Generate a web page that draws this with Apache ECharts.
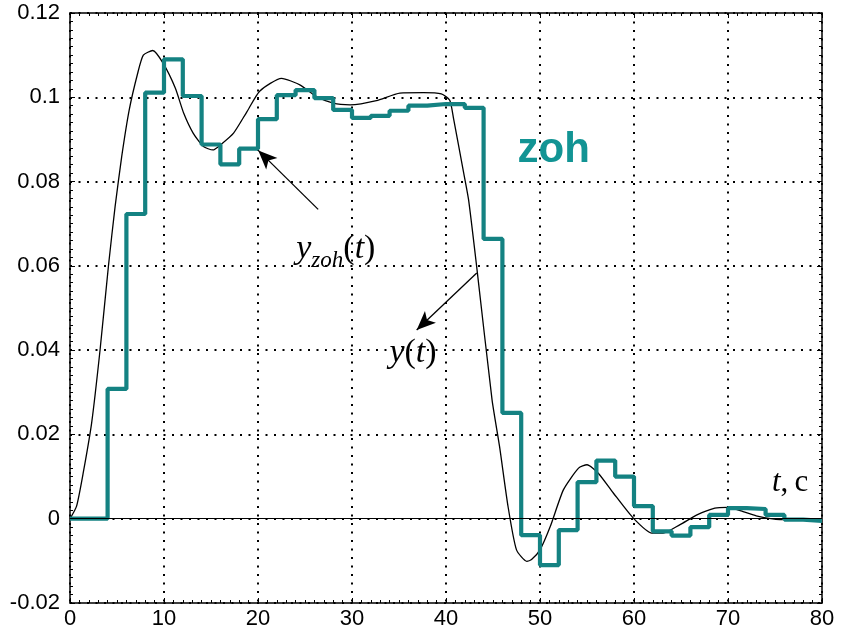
<!DOCTYPE html>
<html>
<head>
<meta charset="utf-8">
<script src="https://cdn.jsdelivr.net/npm/echarts@6/dist/echarts.min.js"></script>
<style>
  html, body { margin: 0; padding: 0; background: #fff; }
  #chart { width: 842px; height: 633px; }
</style>
</head>
<body>
<div id="chart"></div>
<script>
// Continuous response y(t)
const tCurve = [0, 0.7, 1.4, 2.3, 3.2, 4.1, 4.8, 5.5, 6.3, 7.2, 7.8, 8.8, 9.9, 11.2, 12.1, 13.1, 14.2, 15.2, 16,
  17.4, 18.8, 20.2, 22.5, 24.5, 26.2, 28, 29.8, 32.6, 35.1, 37.6, 39.5, 40.4, 40.8, 41.8, 42.4, 43.3, 44.9,
  45.7, 46.6, 47.5, 48.6, 49.1, 50, 51.1, 52.5, 54.1, 55, 56.2, 57.8, 59.9, 61.9, 63.1, 64.9, 66.7, 68.6,
  69.9, 71.6, 73, 75.5, 79, 80];
const yCurve = [0, 0.003, 0.0108, 0.0227, 0.0401, 0.0602, 0.0741, 0.0859, 0.097, 0.1057, 0.110, 0.1111, 0.1081,
  0.1022, 0.0962, 0.0915, 0.0883, 0.0875, 0.0887, 0.0915, 0.0965, 0.1015, 0.1045, 0.1029, 0.1002, 0.0986,
  0.0982, 0.0992, 0.1010, 0.1011, 0.1008, 0.0993, 0.0950, 0.0830, 0.0757, 0.0591, 0.0282, 0.0171, 0.0029,
  -0.0074, -0.0101, -0.0097, -0.0074, -0.0018, 0.0069, 0.0120, 0.0128, 0.0108, 0.0061, 0.0002, -0.0034,
  -0.0034, -0.0014, 0.0009, 0.0025, 0.0027, 0.0017, 0.0007, -0.0002, -0.0002, -0.0003];

// Zero-order-hold samples (period 2 s), each value held until the next sample
const tZoh = [0, 2, 4, 6, 8, 10, 12, 14, 16, 18, 20, 22, 24, 26, 28, 30, 32, 34, 36, 38, 40,
  42, 44, 46, 48, 50, 52, 54, 56, 58, 60, 62, 64, 66, 68, 70, 72, 74, 76, 78, 80];
const yZoh = [0, 0, 0.0308, 0.0723, 0.1011, 0.1090, 0.1003, 0.0888, 0.0841, 0.0878, 0.0948, 0.1005, 0.1017,
  0.0998, 0.0970, 0.0951, 0.0956, 0.0968, 0.0980, 0.0984, 0.0984, 0.0975, 0.0664, 0.0251, -0.0039, -0.0110,
  -0.0027, 0.0087, 0.0138, 0.0100, 0.0030, -0.0030, -0.0040, -0.0020, 0.0009, 0.0025, 0.0023, 0.0009,
  -0.0002, -0.0005, -0.0005];

const xTickLabels = ['0', '10', '20', '30', '40', '50', '60', '70', '80'];
const yTickLabels = ['-0.02', '0', '0.02', '0.04', '0.06', '0.08', '0.1', '0.12'];

const TEAL = '#148282';
const SANS = 'Liberation Sans, Arial, sans-serif';
const SERIF = 'Liberation Serif, Times New Roman, serif';

const dotted = { color: '#000', width: 2, type: [2, 6.5] };
const frameLine = { show: true, onZero: false, lineStyle: { color: '#000', width: 1.5 } };
const tick = { show: true, inside: true, length: 5, lineStyle: { color: '#000', width: 1 } };
const minor = { show: true, splitNumber: 10, length: 3, lineStyle: { color: '#000', width: 1 } };

// math-style text: italic variables, upright brackets
const mathRich = (size, subSize) => ({
  i: { fontFamily: SERIF, fontStyle: 'italic', fontSize: size, color: '#000', lineHeight: size + 12, verticalAlign: 'middle' },
  r: { fontFamily: SERIF, fontSize: size, color: '#000', lineHeight: size + 12, verticalAlign: 'middle' },
  s: { fontFamily: SERIF, fontStyle: 'italic', fontSize: subSize, color: '#000', lineHeight: size + 12, verticalAlign: 'bottom' }
});

const chart = echarts.init(document.getElementById('chart'), null, { renderer: 'canvas' });

chart.setOption({
  animation: false,
  backgroundColor: '#fff',
  grid: { left: 70, right: 20, top: 13, bottom: 30 },
  xAxis: [
    {
      type: 'value', min: 0, max: 80, interval: 10, position: 'bottom',
      axisLine: frameLine, axisTick: tick, minorTick: minor,
      axisLabel: {
        color: '#000', fontSize: 22, fontFamily: SANS, margin: 5,
        formatter: v => xTickLabels[Math.round(v / 10)]
      },
      splitLine: { show: true, lineStyle: dotted }
    },
    {
      type: 'value', min: 0, max: 80, interval: 10, position: 'top',
      axisLine: frameLine, axisTick: tick, minorTick: minor,
      axisLabel: { show: false }, splitLine: { show: false }
    }
  ],
  yAxis: [
    {
      type: 'value', min: -0.02, max: 0.12, interval: 0.02, position: 'left',
      axisLine: frameLine, axisTick: tick, minorTick: minor,
      axisLabel: {
        color: '#000', fontSize: 22, fontFamily: SANS, margin: 10,
        formatter: v => yTickLabels[Math.round((v + 0.02) / 0.02)]
      },
      splitLine: { show: true, lineStyle: dotted }
    },
    {
      type: 'value', min: -0.02, max: 0.12, interval: 0.02, position: 'right',
      axisLine: frameLine, axisTick: tick, minorTick: minor,
      axisLabel: { show: false }, splitLine: { show: false }
    }
  ],
  series: [
    {
      name: 'y(t)', type: 'line', xAxisIndex: 0, yAxisIndex: 0,
      data: tCurve.map((t, i) => [t, yCurve[i]]),
      showSymbol: false, smooth: 0.2, z: 3,
      lineStyle: { color: '#000', width: 1.3 },
      markLine: {
        silent: true, animation: false,
        label: { show: false },
        lineStyle: { color: '#000', width: 1.3, type: 'solid' },
        data: [
          [
            { coord: [26.4, 0.0734], symbol: 'none' },
            { coord: [20.03, 0.0874], symbol: 'arrow', symbolSize: [12, 19] }
          ],
          [
            { coord: [43.27, 0.0583], symbol: 'none' },
            { coord: [36.88, 0.0448], symbol: 'arrow', symbolSize: [12, 19] }
          ]
        ]
      },
      markPoint: {
        silent: true, animation: false,
        symbolSize: 0,
        data: [
          {
            coord: [51.46, 0.0873],
            label: {
              show: true, formatter: 'zoh', color: '#129494',
              fontFamily: SANS, fontWeight: 'bold', fontSize: 42
            }
          },
          {
            coord: [28.28, 0.0640],
            label: { show: true, formatter: '{i|y}{s|zoh}{r|(}{i|t}{r|)}', rich: mathRich(34, 23) }
          },
          {
            coord: [36.49, 0.0392],
            label: { show: true, formatter: '{i|y}{r|(}{i|t}{r|)}', rich: mathRich(34, 23) }
          },
          {
            coord: [76.6, 0.0086],
            label: { show: true, formatter: '{i|t}{r|,\u2009c}', rich: mathRich(31, 20) }
          }
        ]
      }
    },
    {
      name: 'zoh', type: 'line', xAxisIndex: 0, yAxisIndex: 0,
      data: tZoh.map((t, i) => [t, yZoh[i]]),
      step: 'end', showSymbol: false, z: 4,
      lineStyle: { color: TEAL, width: 4.2 },
      markLine: {
        silent: true, animation: false, symbol: 'none',
        label: { show: false },
        lineStyle: { color: '#000', width: 1.2, type: 'solid' },
        data: [{ yAxis: 0 }]
      }
    }
  ]
});
</script>
</body>
</html>
